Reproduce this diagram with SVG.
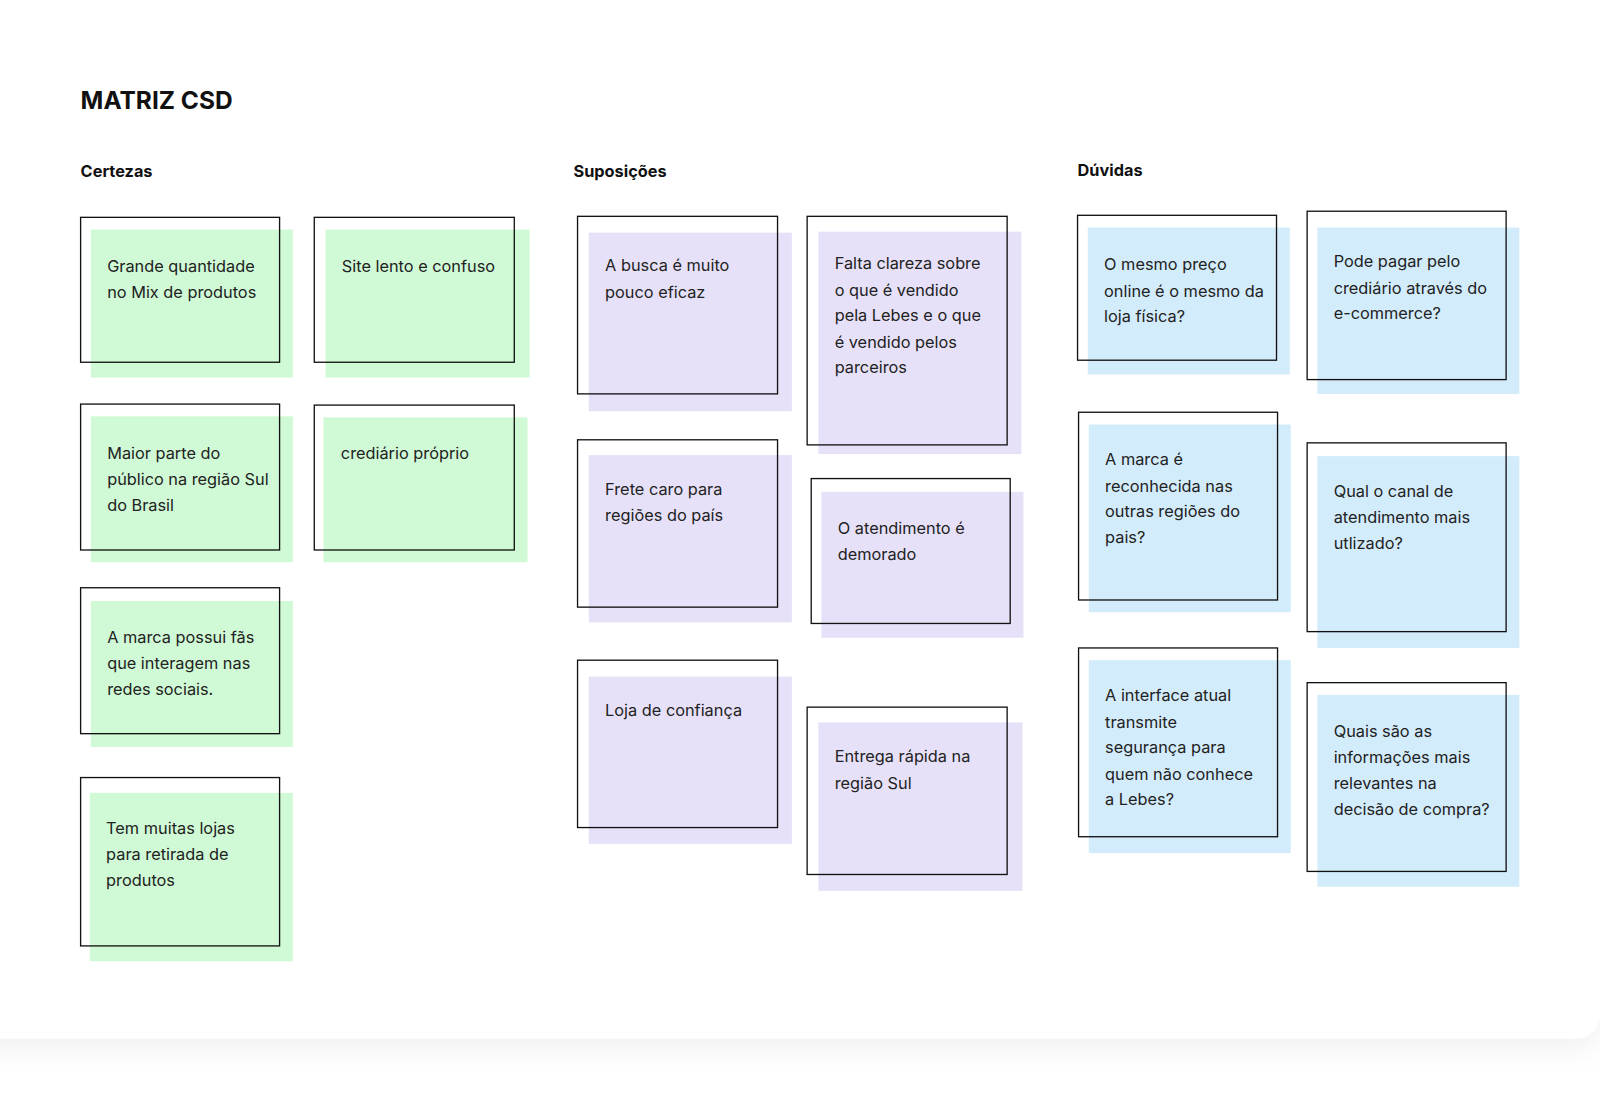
<svg xmlns="http://www.w3.org/2000/svg" width="1600" height="1096" viewBox="0 0 1600 1096">
<defs>
<style>
.t{font-family:Inter,"Liberation Sans",sans-serif;font-size:16px;fill:#222}
.h{font-family:Inter,"Liberation Sans",sans-serif;font-size:16px;font-weight:700;fill:#111}
.o{fill:none;stroke:#111;stroke-width:1.3}
.g{fill:#d0fad5}.p{fill:#e6e1f8}.b{fill:#d3ecfc}
</style>
<filter id="sh" x="-5%" y="-5%" width="110%" height="115%"><feDropShadow dx="0" dy="10" stdDeviation="14" flood-color="#000" flood-opacity="0.06"/></filter>
</defs>
<rect width="1600" height="1096" fill="#fff"/>
<g transform="scale(1.0204)">
<rect x="-30" y="-30" width="1598" height="1048" rx="24" fill="#fff" filter="url(#sh)"/>
<text x="79" y="107" font-family="Inter,'Liberation Sans',sans-serif" font-size="24" font-weight="700" fill="#111">MATRIZ CSD</text>
<text class="h" x="79" y="173">Certezas</text>
<text class="h" x="562" y="173">Suposições</text>
<text class="h" x="1056" y="172">Dúvidas</text>

<g id="c1"><rect class="g" x="89" y="225" width="198" height="145"/><rect class="o" x="79" y="213" width="195" height="142"/><text class="t" x="105" y="267">Grande quantidade</text><text class="t" x="105" y="292">no Mix de produtos</text></g>
<g id="c2"><rect class="g" x="319" y="225" width="200" height="145"/><rect class="o" x="308" y="213" width="196" height="142"/><text class="t" x="335" y="267">Site lento e confuso</text></g>
<g id="c3"><rect class="g" x="89" y="408" width="198" height="143"/><rect class="o" x="79" y="396" width="195" height="143"/><text class="t" x="105" y="450">Maior parte do</text><text class="t" x="105" y="475">público na região Sul</text><text class="t" x="105" y="501">do Brasil</text></g>
<g id="c4"><rect class="g" x="317" y="409" width="200" height="142"/><rect class="o" x="308" y="397" width="196" height="142"/><text class="t" x="334" y="450">crediário próprio</text></g>
<g id="c5"><rect class="g" x="89" y="589" width="198" height="143"/><rect class="o" x="79" y="576" width="195" height="143"/><text class="t" x="105" y="630">A marca possui fãs</text><text class="t" x="105" y="656">que interagem nas</text><text class="t" x="105" y="681">redes sociais.</text></g>
<g id="c6"><rect class="g" x="88" y="777" width="199" height="165"/><rect class="o" x="79" y="762" width="195" height="165"/><text class="t" x="104" y="817">Tem muitas lojas</text><text class="t" x="104" y="843">para retirada de</text><text class="t" x="104" y="868">produtos</text></g>

<g id="s1"><rect class="p" x="577" y="228" width="199" height="175"/><rect class="o" x="566" y="212" width="196" height="174"/><text class="t" x="593" y="266">A busca é muito</text><text class="t" x="593" y="292">pouco eficaz</text></g>
<g id="s2"><rect class="p" x="802" y="227" width="199" height="218"/><rect class="o" x="791" y="212" width="196" height="224"/><text class="t" x="818" y="264">Falta clareza sobre</text><text class="t" x="818" y="290">o que é vendido</text><text class="t" x="818" y="315">pela Lebes e o que</text><text class="t" x="818" y="341">é vendido pelos</text><text class="t" x="818" y="366">parceiros</text></g>
<g id="s3"><rect class="p" x="577" y="446" width="199" height="164"/><rect class="o" x="566" y="431" width="196" height="164"/><text class="t" x="593" y="485">Frete caro para</text><text class="t" x="593" y="511">regiões do país</text></g>
<g id="s4"><rect class="p" x="805" y="482" width="198" height="143"/><rect class="o" x="795" y="469" width="195" height="142"/><text class="t" x="821" y="523">O atendimento é</text><text class="t" x="821" y="549">demorado</text></g>
<g id="s5"><rect class="p" x="577" y="663" width="199" height="164"/><rect class="o" x="566" y="647" width="196" height="164"/><text class="t" x="593" y="702">Loja de confiança</text></g>
<g id="s6"><rect class="p" x="802" y="708" width="200" height="165"/><rect class="o" x="791" y="693" width="196" height="164"/><text class="t" x="818" y="747">Entrega rápida na</text><text class="t" x="818" y="773">região Sul</text></g>

<g id="d1"><rect class="b" x="1066" y="223" width="198" height="144"/><rect class="o" x="1056" y="211" width="195" height="142"/><text class="t" x="1082" y="265">O mesmo preço</text><text class="t" x="1082" y="291">online é o mesmo da</text><text class="t" x="1082" y="316">loja física?</text></g>
<g id="d2"><rect class="b" x="1291" y="223" width="198" height="163"/><rect class="o" x="1281" y="207" width="195" height="165"/><text class="t" x="1307" y="262">Pode pagar pelo</text><text class="t" x="1307" y="288">crediário através do</text><text class="t" x="1307" y="313">e-commerce?</text></g>
<g id="d3"><rect class="b" x="1067" y="416" width="198" height="184"/><rect class="o" x="1057" y="404" width="195" height="184"/><text class="t" x="1083" y="456">A marca é</text><text class="t" x="1083" y="482">reconhecida nas</text><text class="t" x="1083" y="507">outras regiões do</text><text class="t" x="1083" y="532">pais?</text></g>
<g id="d4"><rect class="b" x="1291" y="447" width="198" height="188"/><rect class="o" x="1281" y="434" width="195" height="185"/><text class="t" x="1307" y="487">Qual o canal de</text><text class="t" x="1307" y="513">atendimento mais</text><text class="t" x="1307" y="538">utlizado?</text></g>
<g id="d5"><rect class="b" x="1067" y="647" width="198" height="189"/><rect class="o" x="1057" y="635" width="195" height="185"/><text class="t" x="1083" y="687">A interface atual</text><text class="t" x="1083" y="713">transmite</text><text class="t" x="1083" y="738">segurança para</text><text class="t" x="1083" y="764">quem não conhece</text><text class="t" x="1083" y="789">a Lebes?</text></g>
<g id="d6"><rect class="b" x="1291" y="681" width="198" height="188"/><rect class="o" x="1281" y="669" width="195" height="185"/><text class="t" x="1307" y="722">Quais são as</text><text class="t" x="1307" y="748">informações mais</text><text class="t" x="1307" y="773">relevantes na</text><text class="t" x="1307" y="799">decisão de compra?</text></g>
<g id="connectors"/>
</g>
</svg>
